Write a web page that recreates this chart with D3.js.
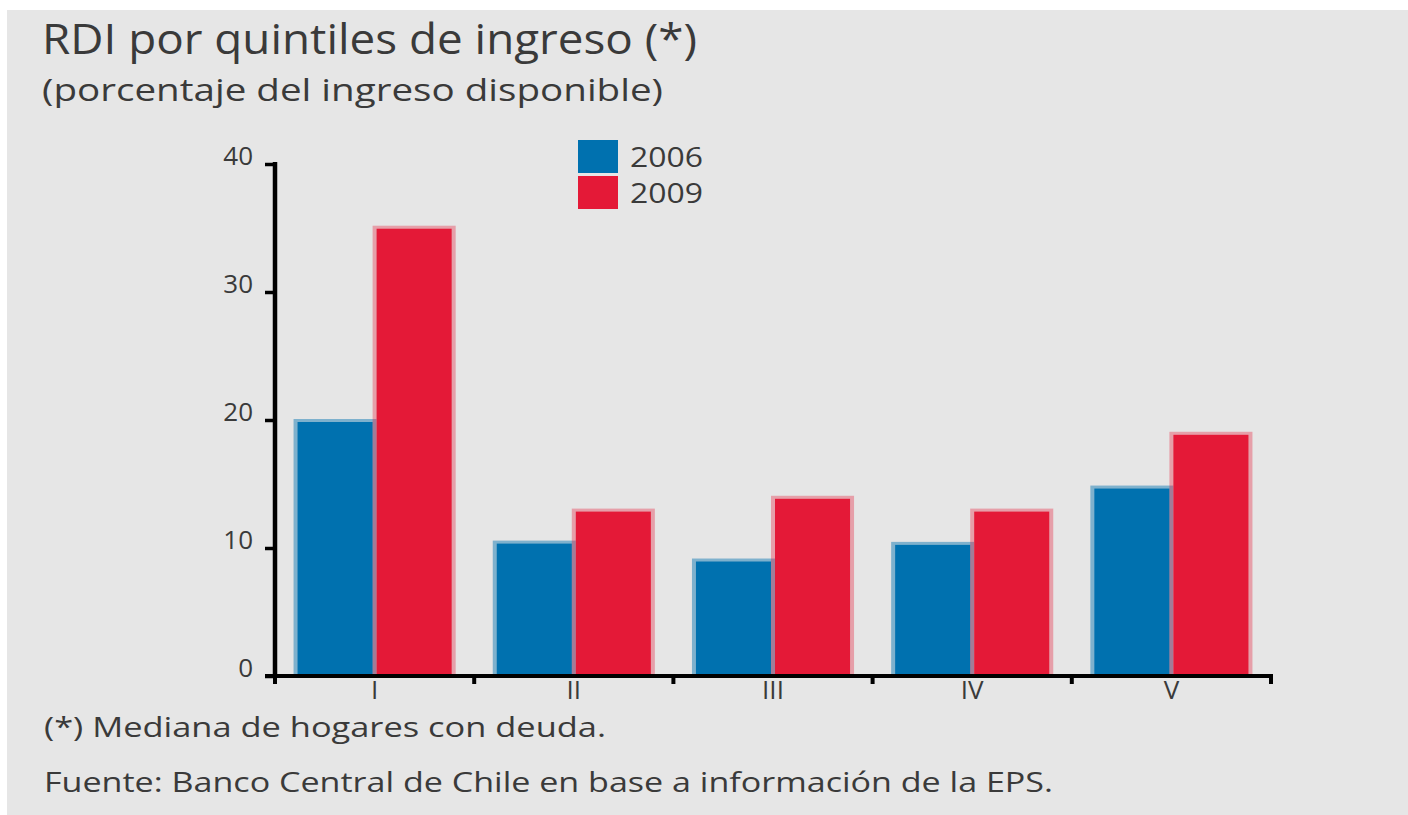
<!DOCTYPE html>
<html>
<head>
<meta charset="utf-8">
<script src="https://cdn.jsdelivr.net/npm/d3@7"></script>
<style>
  html, body { margin: 0; padding: 0; background: #ffffff; }
  svg { display: block; }
  text { font-family: "Open Sans", "Noto Sans", sans-serif; fill: #3a3a3a; }
</style>
</head>
<body>
<svg id="chart" width="1408" height="815"></svg>
<script>
const categories = ["I", "II", "III", "IV", "V"];
const seriesNames = ["2006", "2009"];
const values2006 = [20.0, 10.5, 9.1, 10.4, 14.8];
const values2009 = [35.1, 13.0, 14.0, 13.0, 19.0];
const yTicks = [0, 10, 20, 30, 40];
const titleText = "RDI por quintiles de ingreso (*)";
const subtitleText = "(porcentaje del ingreso disponible)";
const noteText = "(*) Mediana de hogares con deuda.";
const sourceText = "Fuente: Banco Central de Chile en base a información de la EPS.";

const colors = { "2006": "#0071af", "2009": "#e41937" };
const borderColors = { "2006": "rgba(0,113,175,0.45)", "2009": "rgba(228,25,55,0.35)" };

const svg = d3.select("#chart");

// background panel
svg.append("rect").attr("x", 7).attr("y", 10).attr("width", 1401).attr("height", 805).attr("fill", "#e6e6e6");

// titles
svg.append("text").attr("x", 42).attr("y", 54).attr("font-size", 42)
  .attr("textLength", 655).attr("lengthAdjust", "spacingAndGlyphs").text(titleText);
svg.append("text").attr("x", 42).attr("y", 101).attr("font-size", 31)
  .attr("textLength", 621).attr("lengthAdjust", "spacingAndGlyphs").text(subtitleText);

const x0 = d3.scaleBand().domain(categories).range([275, 1271]).paddingInner(0).paddingOuter(0);
const x1 = d3.scaleBand().domain(seriesNames).range([0, x0.bandwidth()]).paddingInner(0).paddingOuter(0.26);
const y = d3.scaleLinear().domain([0, 40]).range([676, 164]);

const data = categories.map((c, i) => ({ cat: c, vals: [
  { s: "2006", v: values2006[i] },
  { s: "2009", v: values2009[i] }
]}));

const groups = svg.append("g").selectAll("g").data(data).join("g")
  .attr("transform", d => `translate(${x0(d.cat)},0)`);

const bw = x1.bandwidth() + 4;
const bars = groups.selectAll("g").data(d => d.vals).join("g");
bars.append("rect")
  .attr("x", d => x1(d.s) - 2)
  .attr("y", d => y(d.v) - 1)
  .attr("width", bw)
  .attr("height", d => y(0) - y(d.v) + 1)
  .attr("fill", d => borderColors[d.s]);
bars.append("rect")
  .attr("x", d => x1(d.s) + 2)
  .attr("y", d => y(d.v) + 2)
  .attr("width", bw - 8)
  .attr("height", d => y(0) - y(d.v) - 2)
  .attr("fill", d => colors[d.s]);

// y axis
const yAxis = d3.axisLeft(y).tickValues(yTicks).tickSize(10).tickFormat(d3.format("d"));
const gy = svg.append("g").attr("transform", "translate(275,0)").call(yAxis);
gy.select(".domain").remove();
gy.append("line").attr("x1", 0).attr("x2", 0).attr("y1", y(40) - 2).attr("y2", y(0) + 2)
  .attr("stroke", "#000").attr("stroke-width", 4.5);
gy.selectAll(".tick line").attr("stroke", "#000").attr("stroke-width", 3.5);
gy.selectAll(".tick text").attr("font-size", 26).attr("fill", "#3f3f3f")
  .attr("font-family", '"Open Sans", sans-serif').attr("x", -22).attr("dy", "0.02em");

// x axis
const xAxis = d3.axisBottom(x0).tickSize(0).tickPadding(8);
const gx = svg.append("g").attr("transform", "translate(0,676)").call(xAxis);
gx.select(".domain").remove();
gx.append("line").attr("x1", 265).attr("x2", 1273).attr("y1", 0).attr("y2", 0)
  .attr("stroke", "#000").attr("stroke-width", 4);
gx.selectAll(".tick text").attr("font-size", 26).attr("fill", "#3f3f3f")
  .attr("font-family", '"Open Sans", sans-serif').attr("y", 5).attr("dy", "0.71em");
// boundary ticks
const boundaries = categories.map(c => x0(c)).concat([x0(categories[categories.length - 1]) + x0.bandwidth()]);
gx.selectAll("line.bt").data(boundaries).join("line").attr("class", "bt")
  .attr("x1", d => d).attr("x2", d => d).attr("y1", 0).attr("y2", 8)
  .attr("stroke", "#000").attr("stroke-width", 4);

// legend
const legend = svg.append("g").selectAll("g").data(seriesNames).join("g")
  .attr("transform", (d, i) => `translate(578,${140 + i * 36})`);
legend.append("rect").attr("width", 40).attr("height", 33).attr("fill", d => colors[d]);
legend.append("text").attr("x", 52).attr("y", 17).attr("dy", "0.36em").attr("font-size", 28)
  .attr("textLength", 73).attr("lengthAdjust", "spacingAndGlyphs").text(d => d);

// footnotes
svg.append("text").attr("x", 44).attr("y", 737).attr("font-size", 28)
  .attr("textLength", 562).attr("lengthAdjust", "spacingAndGlyphs").text(noteText);
svg.append("text").attr("x", 44).attr("y", 792).attr("font-size", 28)
  .attr("textLength", 1009).attr("lengthAdjust", "spacingAndGlyphs").text(sourceText);
</script>
</body>
</html>
